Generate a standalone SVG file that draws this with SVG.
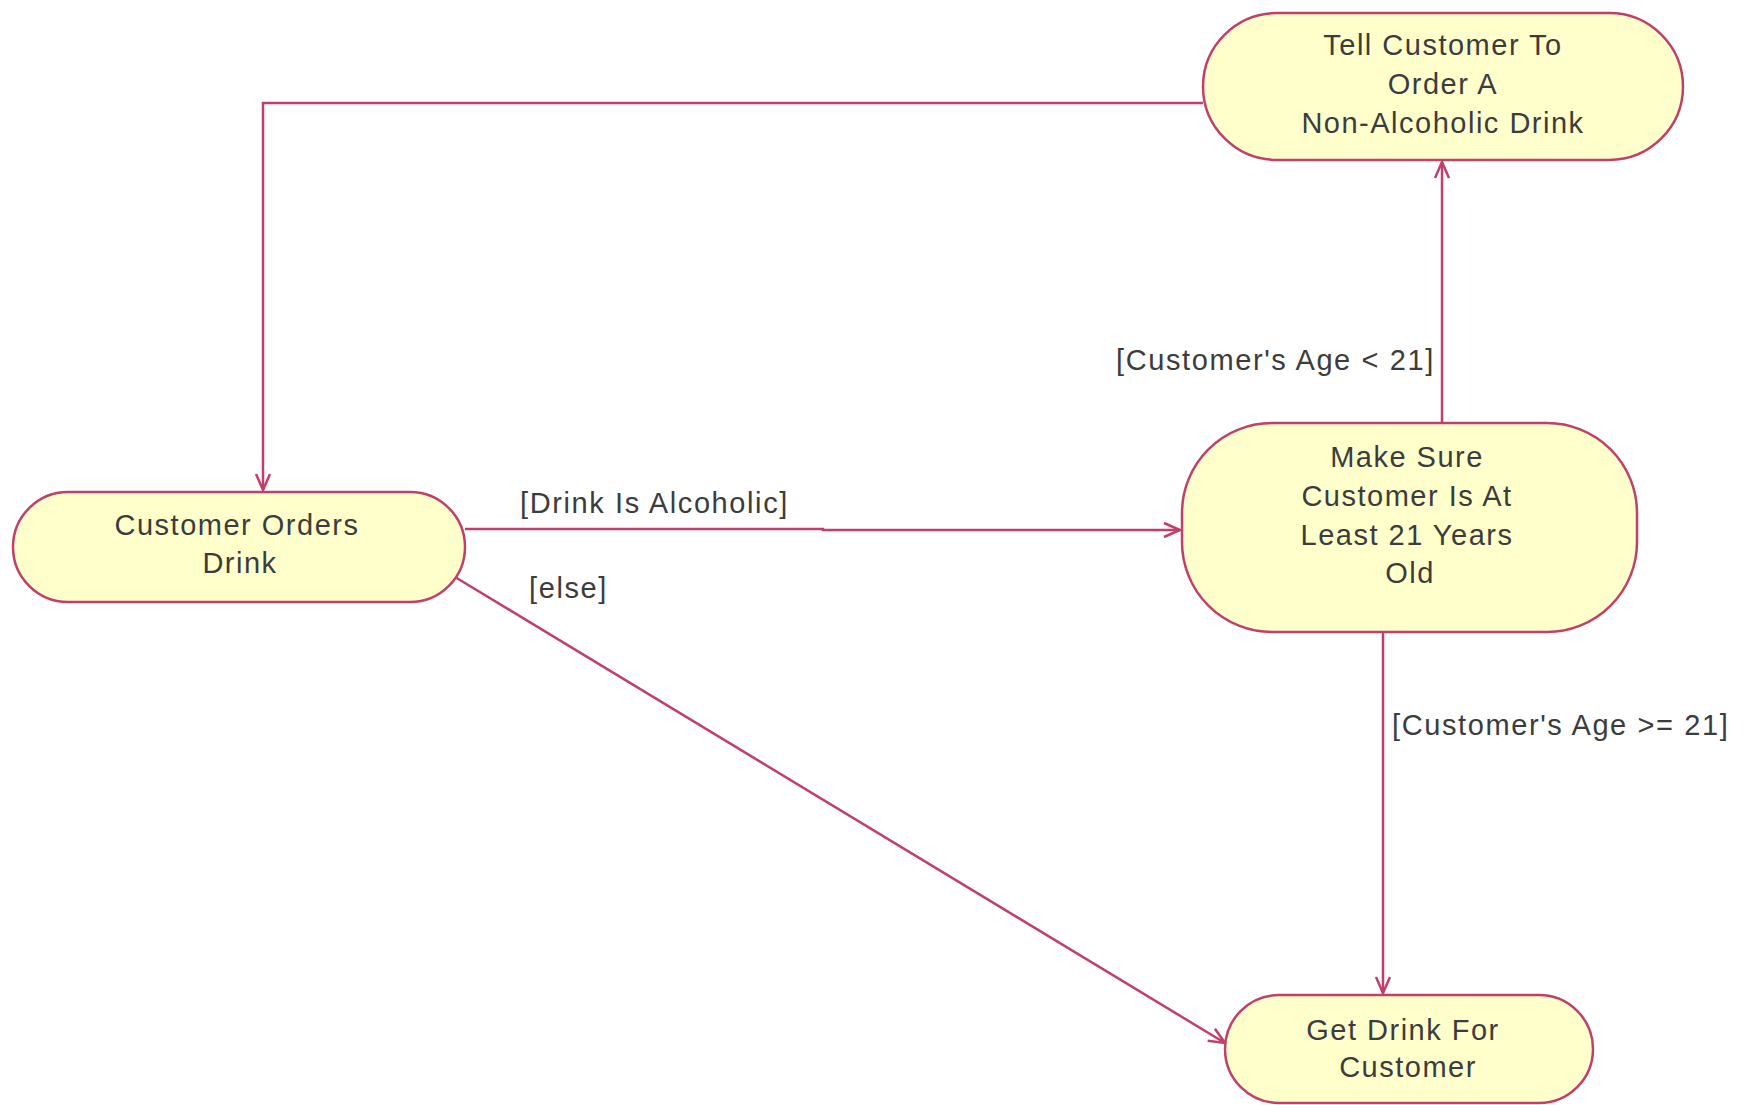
<svg xmlns="http://www.w3.org/2000/svg" width="1748" height="1105" viewBox="0 0 1748 1105">
<defs>
<style>
.node{fill:#ffffcc;stroke:#c0406a;stroke-width:2.5}
.lbl{font-family:"Liberation Sans",Arial,sans-serif;font-size:29px;fill:#3c3c3c;text-anchor:middle;letter-spacing:1.5px}
.glbl{font-family:"Liberation Sans",Arial,sans-serif;font-size:29px;fill:#3c3c3c;letter-spacing:1.6px}
.edge{fill:none;stroke:#c0406a;stroke-width:2.5}
</style>
<marker id="arr" viewBox="0 0 20 20" refX="18" refY="10" markerWidth="20" markerHeight="20" markerUnits="userSpaceOnUse" orient="auto">
<path d="M2,3 L18,10 L2,17" fill="none" stroke="#c0406a" stroke-width="2.5"/>
</marker>
</defs>
<rect width="1748" height="1105" fill="#ffffff"/>
<g id="connectors">
<path class="edge" d="M1203,103 L263,103 L263,490" marker-end="url(#arr)"/>
<path class="edge" d="M465,529 L823,529 L823,530 L1180,530" marker-end="url(#arr)"/>
<path class="edge" d="M455,577 L1225,1043" marker-end="url(#arr)"/>
<path class="edge" d="M1442,423 L1442,162" marker-end="url(#arr)"/>
<path class="edge" d="M1383,632 L1383,993" marker-end="url(#arr)"/>
<text class="glbl" x="520" y="513">[Drink Is Alcoholic]</text>
<text class="glbl" x="529" y="598">[else]</text>
<text class="glbl" x="1116" y="370">[Customer's Age &lt; 21]</text>
<text class="glbl" x="1392" y="735">[Customer's Age &gt;= 21]</text>
</g>
<g id="tell-customer">
<rect class="node" x="1203" y="13" width="480" height="147" rx="74" ry="74"/>
<text class="lbl" x="1443" y="55">Tell Customer To</text>
<text class="lbl" x="1443" y="94">Order A</text>
<text class="lbl" x="1443" y="133">Non-Alcoholic Drink</text>
</g>
<g id="customer-orders">
<rect class="node" x="13" y="492" width="452" height="110" rx="55" ry="55"/>
<text class="lbl" x="237" y="535">Customer Orders</text>
<text class="lbl" x="240" y="573">Drink</text>
</g>
<g id="make-sure">
<rect class="node" x="1182" y="423" width="455" height="209" rx="90" ry="90"/>
<text class="lbl" x="1407" y="467">Make Sure</text>
<text class="lbl" x="1407" y="506">Customer Is At</text>
<text class="lbl" x="1407" y="545">Least 21 Years</text>
<text class="lbl" x="1410" y="583">Old</text>
</g>
<g id="get-drink">
<rect class="node" x="1225" y="995" width="368" height="108" rx="54" ry="54"/>
<text class="lbl" x="1403" y="1040">Get Drink For</text>
<text class="lbl" x="1408" y="1077">Customer</text>
</g>
</svg>
